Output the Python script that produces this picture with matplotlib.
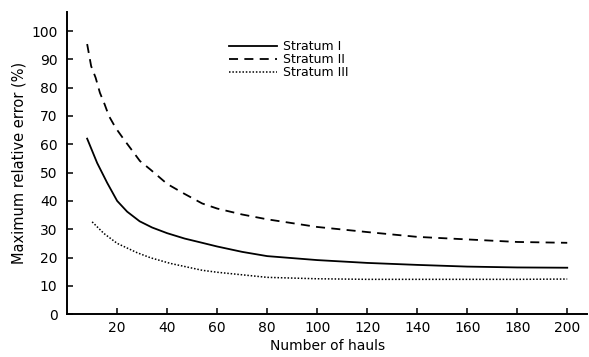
import matplotlib
matplotlib.use('Agg')
import matplotlib.pyplot as plt

# values
hauls_1 = [8, 12, 16, 20, 24, 29, 34, 40, 47, 54, 60, 70, 80, 100, 120, 140, 160, 180, 200]
error_1 = [62, 53.4, 46.4, 40, 36.2, 32.8, 30.6, 28.6, 26.7, 25.2, 23.9, 22, 20.5,
           19.1, 18.1, 17.4, 16.8, 16.5, 16.4]

hauls_2 = [8, 9.6, 11.4, 13.1, 15, 16.7, 19.4, 22.7, 26, 29.1, 33.4, 40, 46.7, 54,
           60, 70, 80, 100, 120, 140, 160, 180, 200]
error_2 = [95.4, 87.6, 83.5, 78.2, 74.1, 70, 65.8, 61.7, 57.8, 54.1, 51, 46.0, 42.6, 39.1,
           37.3, 35.2, 33.5, 30.8, 29, 27.3, 26.4, 25.5, 25.2]

hauls_3 = [10, 14.7, 20, 28, 33.4, 41.4, 54, 60, 80, 100, 120, 140, 160, 180, 200]
error_3 = [32.6, 28.5, 25, 21.7, 19.9, 17.9, 15.5, 14.8, 13, 12.5, 12.3, 12.3, 12.3, 12.3, 12.4]

labels = ['Stratum I', 'Stratum II', 'Stratum III']
x_ticks = list(range(20, 201, 20))
y_ticks = list(range(0, 101, 10))

fig = plt.figure(figsize=(5.89, 3.57), dpi=100)
ax = fig.add_axes([0.114, 0.12, 0.883, 0.847])

ax.plot(hauls_1, error_1, color='black', lw=1.3, label=labels[0])
ax.plot(hauls_2, error_2, color='black', lw=1.3, dashes=(5, 3.5), label=labels[1])
ax.plot(hauls_3, error_3, color='black', lw=1.1, dashes=(1, 1.2), label=labels[2])

ax.set_xlim(0, 208)
ax.set_ylim(0, 106.8)
ax.set_xticks(x_ticks)
ax.set_yticks(y_ticks)
ax.spines['top'].set_visible(False)
ax.spines['right'].set_visible(False)
ax.spines['left'].set_linewidth(1.4)
ax.spines['bottom'].set_linewidth(1.4)
ax.tick_params(direction='in', length=4, width=1.1, labelsize=10)
ax.tick_params(axis='y', pad=7)
ax.tick_params(axis='x', pad=5)

ax.set_xlabel('Number of hauls', fontsize=10, labelpad=3)
ax.set_ylabel('Maximum relative error (%)', fontsize=10.5, labelpad=3)

ax.legend(loc='upper left', bbox_to_anchor=(0.3, 0.927), frameon=False,
          fontsize=9, labelspacing=0.0, handlelength=3.8, handletextpad=0.5,
          borderpad=0)

fig.savefig('out.png', dpi=100)
